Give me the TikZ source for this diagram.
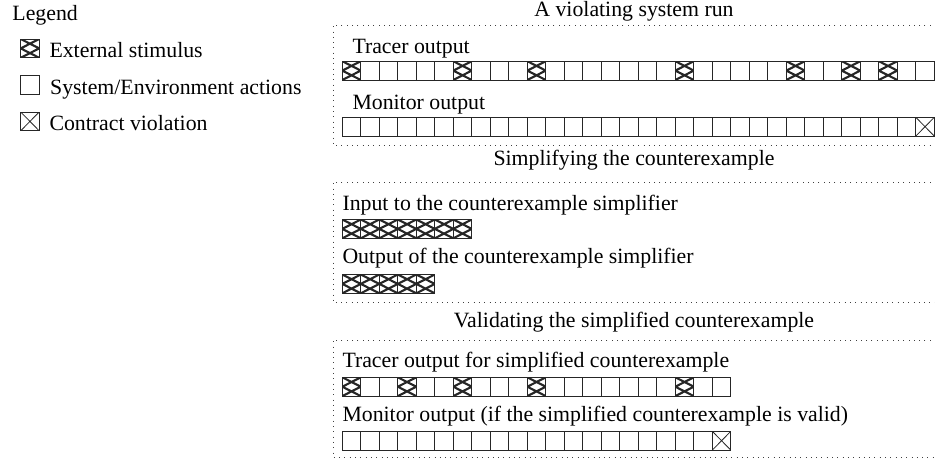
\documentclass[tikz,border=0pt]{standalone}
\usepackage{fontspec}
\setmainfont{Liberation Serif}
\newcommand\cellrow[6]{% #1 name, #2 x0, #3 ytop, #4 last index, #5 stimulus list, #6 violation list
  \foreach \i in {0,...,#4}{%
    \gdef\cst{cellbox}%
    \foreach \s in {#5}{\ifnum\i=\s\relax\gdef\cst{stimcell}\fi}%
    \foreach \s in {#6}{\ifnum\i=\s\relax\gdef\cst{violcell}\fi}%
    \node[\cst] (#1\i) at ({#2+18.5*\i},#3) {};
  }}
\begin{document}
\begin{tikzpicture}[x=1pt,y=-1pt,
  font=\fontsize{21.8pt}{26pt}\selectfont,
  cellbox/.style={draw=black!85, line width=1pt, minimum width=18.5pt, minimum height=18.8pt,
    inner sep=0pt, outer sep=0pt, anchor=north west},
  stimcell/.style={cellbox, path picture={\draw[line width=2.1pt]
      (path picture bounding box.north west) -- (path picture bounding box.east) -- (path picture bounding box.south west)
      (path picture bounding box.north east) -- (path picture bounding box.west) -- (path picture bounding box.south east);}},
  violcell/.style={cellbox, path picture={\draw[line width=0.8pt]
      (path picture bounding box.north west) -- (path picture bounding box.south east)
      (path picture bounding box.north east) -- (path picture bounding box.south west);}},
  lbl/.style={anchor=base west, inner sep=0pt},
  ttl/.style={anchor=base, inner sep=0pt},
  framestyle/.style={line width=1pt, dash pattern=on 1pt off 4.3pt, black!75}]
\useasboundingbox (0,0) rectangle (935,461);

% legend
\node[lbl] (legend) at (12.3,20.7) {Legend};
\node[stimcell] (lg1) at (20.7,39) {};
\node[lbl] (lt1) at (49.3,57.3) {External stimulus};
\node[cellbox] (lg2) at (20.7,75.5) {};
\node[lbl] (lt2) at (50,94) {System/Environment actions};
\node[violcell] (lg3) at (20.7,112) {};
\node[lbl] (lt3) at (49.3,130.7) {Contract violation};

% box 1
\node[ttl] (t1) at (634,16.5) {A violating system run};
\draw[framestyle] (936,25) -- (333,25) -- (333,145) -- (936,145);
\node[lbl] (l1a) at (352.3,53.3) {Tracer output};
\cellrow{ta}{342.3}{61.2}{31}{0,6,10,18,24,27,29}{-1}
\node[lbl] (l1b) at (352.3,109) {Monitor output};
\cellrow{ma}{342.3}{117.3}{31}{-1}{31}

% box 2
\node[ttl] (t2) at (634,165) {Simplifying the counterexample};
\draw[framestyle] (936,182) -- (333,182) -- (333,302.3) -- (936,302.3);
\node[lbl] (l2a) at (342.3,210) {Input to the counterexample simplifier};
\cellrow{ia}{342.3}{219.5}{6}{0,1,2,3,4,5,6}{-1}
\node[lbl] (l2b) at (342.3,263.5) {Output of the counterexample simplifier};
\cellrow{oa}{342.3}{274.5}{4}{0,1,2,3,4}{-1}

% box 3
\node[ttl] (t3) at (634,327.3) {Validating the simplified counterexample};
\draw[framestyle] (936,340) -- (333,340) -- (333,457) -- (936,457);
\node[lbl] (l3a) at (342.3,367.5) {Tracer output for simplified counterexample};
\cellrow{tb}{342.3}{377.3}{20}{0,3,6,10,18}{-1}
\node[lbl] (l3b) at (342.3,421.5) {Monitor output (if the simplified counterexample is valid)};
\cellrow{mb}{342.3}{431.3}{20}{-1}{20}
\end{tikzpicture}
\end{document}
